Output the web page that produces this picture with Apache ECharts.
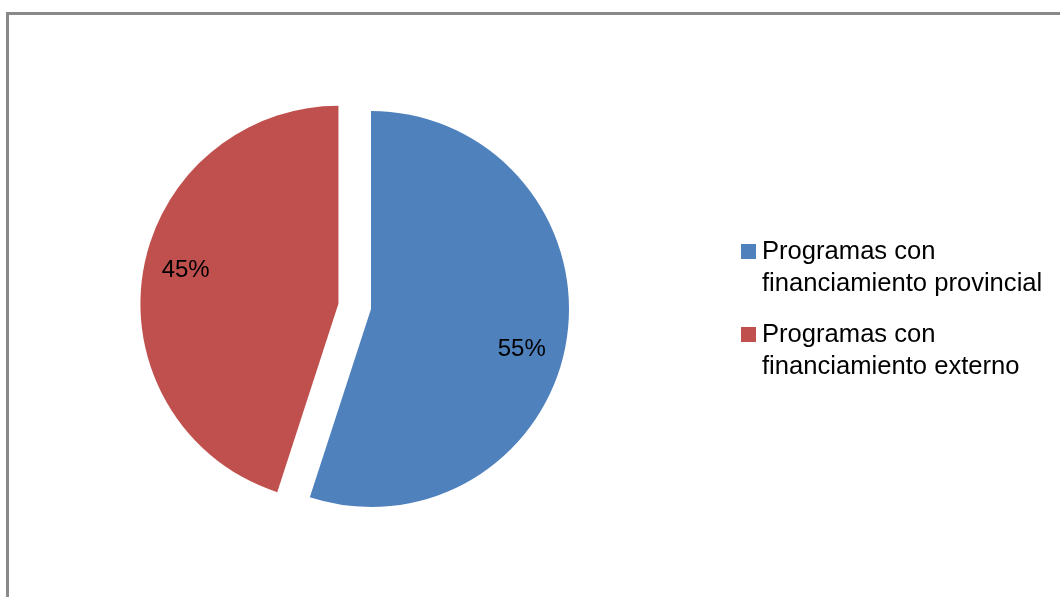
<!DOCTYPE html>
<html>
<head>
<meta charset="utf-8">
<script src="https://cdn.jsdelivr.net/npm/echarts@6/dist/echarts.min.js"></script>
<style>
  html, body { margin: 0; padding: 0; background: #ffffff; }
  #chart { width: 1060px; height: 597px; }
</style>
</head>
<body>
<div id="chart"></div>
<script>
const categories = ['Programas con financiamiento provincial', 'Programas con financiamiento externo'];
const values = [55, 45];
const exploded = [false, true];

const sliceColors = ['#4F81BD', '#C0504D'];
const labelShift = [[50, 24], [-52, -18]];
const FONT = '"Liberation Sans", Arial, sans-serif';

const chart = echarts.init(document.getElementById('chart'), null, { renderer: 'canvas' });

const pieData = categories.map((name, i) => ({
  name: name,
  value: values[i],
  selected: exploded[i],
  itemStyle: { color: sliceColors[i] },
  select: { itemStyle: { color: sliceColors[i], borderWidth: 0 } }
}));

function legendFor(i, top) {
  return {
    show: true,
    data: [categories[i]],
    orient: 'vertical',
    left: 741,
    top: top,
    padding: 0,
    itemWidth: 15,
    itemHeight: 15,
    itemGap: 0,
    selectedMode: false,
    icon: 'rect',
    formatter: (n) => ' \n' + n.replace(' financiamiento', '\nfinanciamiento'),
    textStyle: {
      fontFamily: FONT,
      fontSize: 25.6,
      lineHeight: 32,
      color: '#000000',
      padding: [0, 0, 0, 1]
    }
  };
}

chart.setOption({
  animation: false,
  backgroundColor: '#ffffff',
  color: sliceColors,
  graphic: [{
    type: 'rect',
    silent: true,
    shape: { x: 7.5, y: 13.5, width: 1200, height: 800 },
    style: { fill: 'none', stroke: '#898989', lineWidth: 3 }
  }],
  legend: [legendFor(0, 203.5), legendFor(1, 286.5)],
  series: [{
    type: 'pie',
    center: [371, 309],
    radius: 198,
    startAngle: 90,
    clockwise: true,
    selectedMode: 'multiple',
    selectedOffset: 33,
    silent: true,
    emphasis: { scale: false },
    itemStyle: { borderWidth: 0 },
    label: {
      show: true,
      position: 'inside',
      formatter: '{d}%',
      fontFamily: FONT,
      fontSize: 24,
      color: '#000000'
    },
    labelLine: { show: false },
    labelLayout: (p) => ({ dx: labelShift[p.dataIndex][0], dy: labelShift[p.dataIndex][1] }),
    data: pieData
  }]
});
</script>
</body>
</html>
